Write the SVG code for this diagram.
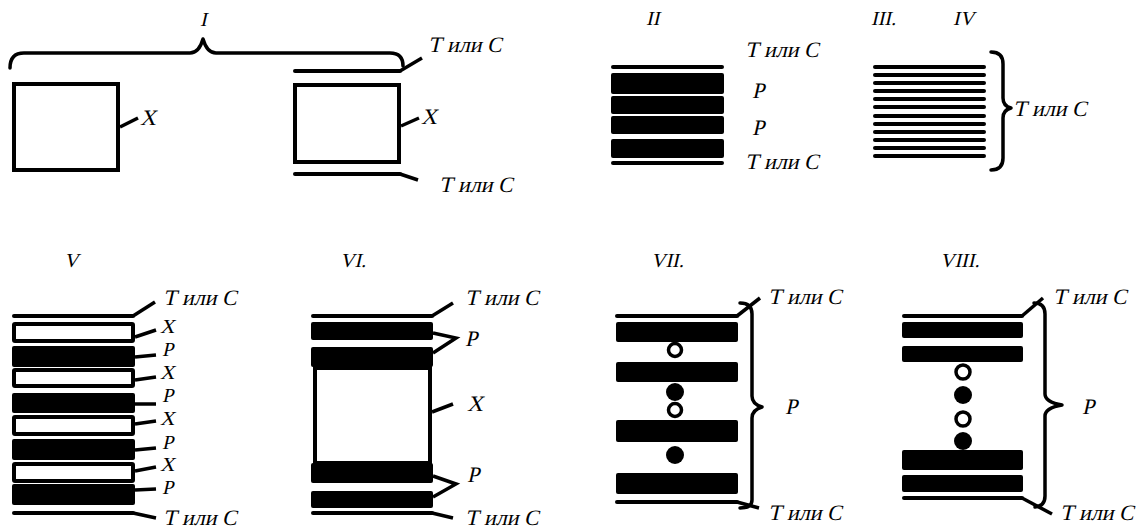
<svg xmlns="http://www.w3.org/2000/svg" width="1142" height="531" viewBox="0 0 1142 531">
<style>
.ln{stroke:#000;stroke-width:4;fill:none;stroke-linecap:round;stroke-linejoin:round}
.ld{stroke:#000;stroke-width:3.5;fill:none;stroke-linecap:butt}
.br{stroke:#000;stroke-width:3.5;fill:none;stroke-linecap:round;stroke-linejoin:round}
.bar{fill:#000}
.box{fill:#fff;stroke:#000;stroke-width:4}
.ring{fill:#fff;stroke:#000;stroke-width:3.5}
.dot{fill:#000}
text{font-family:"Liberation Serif","Times New Roman",serif;font-style:normal;font-size:22px;fill:#000}
.num{font-size:20px}
.sm{font-size:20px}
</style>
<rect width="1142" height="531" fill="#fff"/>

<!-- I -->
<g id="fig-I">
<text class="num" transform="translate(200,26) skewX(-13)">I</text>
<path class="br" d="M10,68 Q10,53 24,53 L190,53 Q199,53 203,39 Q207,53 216,53 L390,53 Q403,53 403,66"/>
<rect class="box" x="14" y="84" width="104" height="86"/>
<path class="ld" d="M120,127 L138,118"/>
<text transform="translate(140,125) skewX(-13)">X</text>
<rect class="box" x="295" y="85" width="104" height="77"/>
<path class="ld" d="M401,126 L419,118"/>
<text transform="translate(421,124) skewX(-13)">X</text>
<path class="ln" d="M295,71 L400,71"/>
<path class="ld" d="M400,71 L422,58"/>
<text transform="translate(428,52) skewX(-13)">Т или С</text>
<path class="ln" d="M295,174 L400,174"/>
<path class="ld" d="M400,174 L418,180"/>
<text transform="translate(439,192) skewX(-13)">Т или С</text>
</g>

<!-- II -->
<g id="fig-II">
<text class="num" transform="translate(646,25) skewX(-13)">II</text>
<path class="ln" d="M613,67 L722,67"/>
<rect class="bar" x="611" y="73" width="113" height="21" rx="2"/>
<rect class="bar" x="611" y="96" width="113" height="18" rx="2"/>
<rect class="bar" x="611" y="116" width="113" height="18" rx="2"/>
<rect class="bar" x="611" y="139" width="113" height="19" rx="2"/>
<path class="ln" d="M613,163 L722,163"/>
<text transform="translate(745,57) skewX(-13)">Т или С</text>
<text transform="translate(752,98) skewX(-13)">Р</text>
<text transform="translate(752,135) skewX(-13)">Р</text>
<text transform="translate(745,169) skewX(-13)">Т или С</text>
</g>

<!-- III, IV -->
<g id="fig-III-IV">
<text class="num" transform="translate(871,25) skewX(-13)">III.</text>
<text class="num" transform="translate(953,25) skewX(-13)">IV</text>
<g class="ln">
<path d="M875,67 L984,67"/><path d="M875,75 L984,75"/><path d="M875,83 L984,83"/>
<path d="M875,91 L984,91"/><path d="M875,99 L984,99"/><path d="M875,107 L984,107"/>
<path d="M875,116 L984,116"/><path d="M875,124 L984,124"/><path d="M875,132 L984,132"/>
<path d="M875,140 L984,140"/><path d="M875,148 L984,148"/><path d="M875,156 L984,156"/>
</g>
<path class="br" d="M991,52 Q1003,52 1003,64 L1003,98 Q1003,106 1011,108 Q1003,110 1003,118 L1003,158 Q1003,170 991,170"/>
<text transform="translate(1013,116) skewX(-13)">Т или С</text>
</g>

<!-- V -->
<g id="fig-V">
<text class="num" transform="translate(64,267) skewX(-13)">V</text>
<path class="ln" d="M14,316 L133,316"/>
<path class="ld" d="M133,316 L155,302"/>
<text transform="translate(163,305) skewX(-13)">Т или С</text>
<rect class="box" x="14" y="324" width="119" height="17" rx="1"/>
<rect class="bar" x="12" y="346" width="123" height="21" rx="2"/>
<rect class="box" x="14" y="370" width="119" height="16" rx="1"/>
<rect class="bar" x="12" y="393" width="123" height="20" rx="2"/>
<rect class="box" x="14" y="417" width="119" height="17" rx="1"/>
<rect class="bar" x="12" y="439" width="123" height="21" rx="2"/>
<rect class="box" x="14" y="464" width="119" height="17" rx="1"/>
<rect class="bar" x="12" y="484" width="123" height="21" rx="2"/>
<path class="ln" d="M14,513 L133,513"/>
<path class="ld" d="M135,337 L156,330"/><text class="sm" transform="translate(160,333) skewX(-13)">X</text>
<path class="ld" d="M135,357 L156,355"/><text class="sm" transform="translate(162,356) skewX(-13)">Р</text>
<path class="ld" d="M135,380 L156,377"/><text class="sm" transform="translate(160,379) skewX(-13)">X</text>
<path class="ld" d="M135,404 L156,404"/><text class="sm" transform="translate(162,402) skewX(-13)">Р</text>
<path class="ld" d="M135,424 L156,421"/><text class="sm" transform="translate(160,425) skewX(-13)">X</text>
<path class="ld" d="M135,450 L156,448"/><text class="sm" transform="translate(162,449) skewX(-13)">Р</text>
<path class="ld" d="M135,471 L156,467"/><text class="sm" transform="translate(160,471) skewX(-13)">X</text>
<path class="ld" d="M135,490 L156,489"/><text class="sm" transform="translate(162,494) skewX(-13)">Р</text>
<path class="ld" d="M133,513 L156,518"/>
<text transform="translate(163,525) skewX(-13)">Т или С</text>
</g>

<!-- VI -->
<g id="fig-VI">
<text class="num" transform="translate(340,267) skewX(-13)">VI.</text>
<path class="ln" d="M313,316 L432,316"/>
<path class="ld" d="M432,316 L453,303"/>
<text transform="translate(465,305) skewX(-13)">Т или С</text>
<rect class="bar" x="311" y="322" width="122" height="18" rx="2"/>
<rect class="bar" x="311" y="347" width="122" height="20" rx="2"/>
<rect class="box" x="315" y="368" width="115" height="95"/>
<rect class="bar" x="311" y="463" width="122" height="20" rx="2"/>
<rect class="bar" x="311" y="491" width="122" height="17" rx="2"/>
<path class="ln" d="M313,513 L432,513"/>
<path class="ld" d="M432,513 L453,518"/>
<text transform="translate(465,525) skewX(-13)">Т или С</text>
<path class="ld" d="M433,333 L456,338 L433,353"/>
<text transform="translate(465,346) skewX(-13)">Р</text>
<path class="ld" d="M432,412 L453,404"/>
<text transform="translate(467,411) skewX(-13)">X</text>
<path class="ld" d="M433,476 L456,484 L433,497"/>
<text transform="translate(467,482) skewX(-13)">Р</text>
</g>

<!-- VII -->
<g id="fig-VII">
<text class="num" transform="translate(651,267) skewX(-13)">VII.</text>
<path class="ln" d="M617,316 L737,316"/>
<path class="ld" d="M737,316 L760,298"/>
<rect class="bar" x="616" y="322" width="122" height="20" rx="2"/>
<rect class="bar" x="616" y="362" width="122" height="20" rx="2"/>
<rect class="bar" x="616" y="420" width="122" height="22" rx="2"/>
<rect class="bar" x="616" y="473" width="122" height="21" rx="2"/>
<path class="ln" d="M617,502 L737,502"/>
<path class="ld" d="M737,502 L759,508"/>
<circle class="ring" cx="675" cy="350" r="6.5"/>
<circle class="dot" cx="675" cy="392" r="9"/>
<circle class="ring" cx="675" cy="410" r="6.5"/>
<circle class="dot" cx="675" cy="455" r="9"/>
<path class="br" d="M740,303 Q752,303 752,314 L752,396 Q752,404 762,407 Q752,410 752,418 L752,500 Q752,508 740,508"/>
<text transform="translate(768,304) skewX(-13)">Т или С</text>
<text transform="translate(785,414) skewX(-13)">Р</text>
<text transform="translate(768,520) skewX(-13)">Т или С</text>
</g>

<!-- VIII -->
<g id="fig-VIII">
<text class="num" transform="translate(940,267) skewX(-13)">VIII.</text>
<path class="ln" d="M904,316 L1022,316"/>
<path class="ld" d="M1022,316 L1043,298"/>
<rect class="bar" x="902" y="322" width="121" height="16" rx="2"/>
<rect class="bar" x="902" y="346" width="121" height="16" rx="2"/>
<rect class="bar" x="902" y="450" width="121" height="20" rx="2"/>
<rect class="bar" x="902" y="475" width="121" height="17" rx="2"/>
<path class="ln" d="M904,498 L1022,498"/>
<path class="ld" d="M1022,498 L1052,514"/>
<circle class="ring" cx="963" cy="372" r="7"/>
<circle class="dot" cx="963" cy="395" r="9"/>
<circle class="ring" cx="963" cy="419" r="7"/>
<circle class="dot" cx="963" cy="441" r="9"/>
<path class="br" d="M1034,303 Q1045,303 1045,314 L1045,394 Q1045,402 1062,405 Q1045,408 1045,416 L1045,496 Q1045,506 1035,507"/>
<text transform="translate(1053,304) skewX(-13)">Т или С</text>
<text transform="translate(1082,414) skewX(-13)">Р</text>
<text transform="translate(1060,520) skewX(-13)">Т или С</text>
</g>
</svg>
